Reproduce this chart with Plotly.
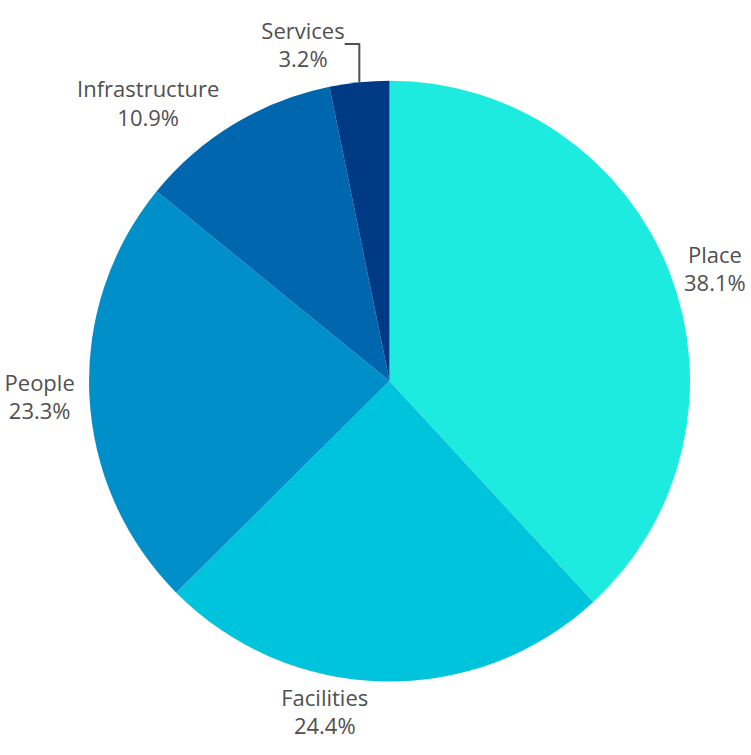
import plotly.graph_objects as go

labels = ["Place", "Facilities", "People", "Infrastructure", "Services"]
values = [381, 244, 233, 109, 32]
colors = ["#1DEBE0", "#00C4DB", "#008FC8", "#0066AE", "#003A85"]

fig = go.Figure(go.Pie(
    labels=labels,
    values=values,
    sort=False,
    direction="clockwise",
    rotation=0,
    marker=dict(colors=colors, line=dict(width=0)),
    textinfo="label+percent",
    textposition="outside",
    texttemplate="%{label}<br>%{percent:.1%}",
    outsidetextfont=dict(family="Open Sans", size=22, color="#505050"),
    showlegend=False,
    hoverinfo="label+percent",
    domain=dict(x=[0.04, 1.0], y=[0.0, 0.985]),
))

fig.update_layout(
    width=751, height=755,
    margin=dict(l=10, r=0, t=10, b=0),
    paper_bgcolor="white",
    plot_bgcolor="white",
    font=dict(family="Open Sans", size=22, color="#505050"),
)

fig.write_html("out.html")
